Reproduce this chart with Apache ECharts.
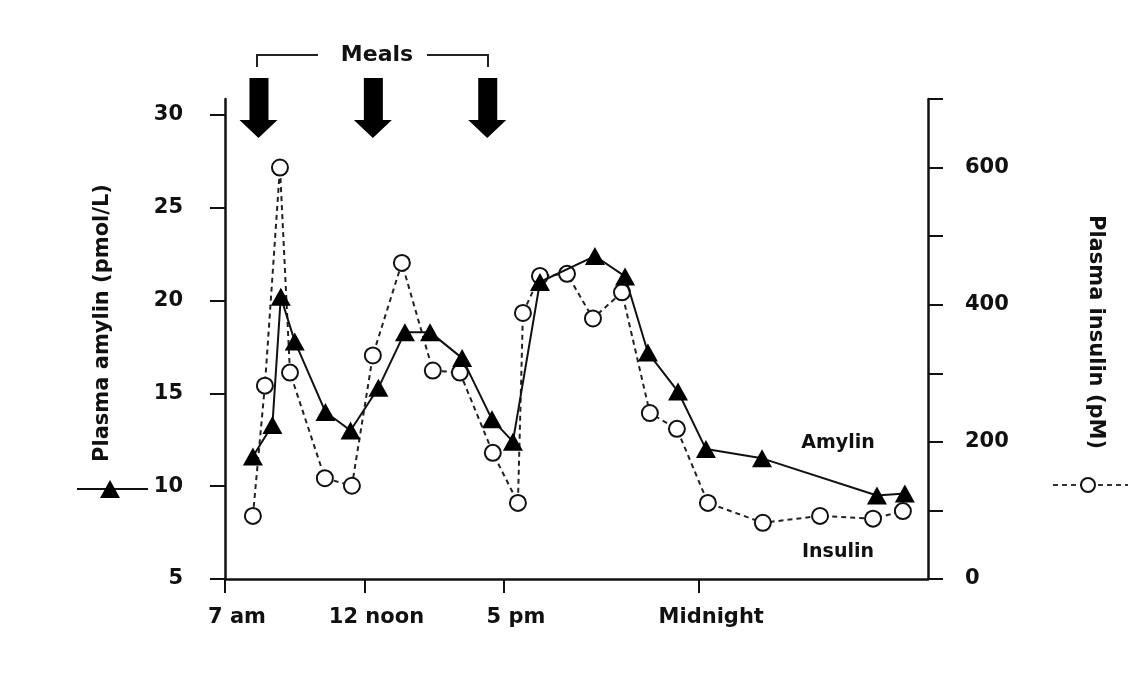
<!DOCTYPE html>
<html>
<head>
<meta charset="utf-8">
<script src="https://cdn.jsdelivr.net/npm/echarts@6/dist/echarts.min.js"></script>
<style>html,body{margin:0;padding:0;background:#fff;}#chart{width:1145px;height:687px;}</style>
</head>
<body>
<div id="chart"></div>
<script>
// Time of day in hours (7 = 7 am, 24 = midnight, >24 = next morning)
const amylinHours = [8.0, 8.7, 9.0, 9.5, 10.6, 11.5, 12.5, 13.45, 14.35, 15.5, 16.57, 17.32, 18.29, 20.26, 21.34, 22.16, 23.24, 24.24, 26.25, 30.37, 31.37];
const amylinValues = [11.6, 13.3, 20.2, 17.8, 14.0, 13.0, 15.3, 18.3, 18.3, 16.9, 13.6, 12.4, 21.0, 22.4, 21.3, 17.2, 15.1, 12.0, 11.5, 9.5, 9.6];
const insulinHours = [8.0, 8.43, 8.97, 9.33, 10.58, 11.55, 12.3, 13.34, 14.45, 15.42, 16.6, 17.5, 17.68, 18.29, 19.26, 20.19, 21.23, 22.23, 23.2, 24.31, 26.28, 28.33, 30.23, 31.3];
const insulinValues = [92, 282, 600, 301, 147, 136, 326, 461, 304, 301, 184, 111, 388, 442, 445, 380, 418, 242, 219, 111, 82, 92, 88, 99];
const mealHours = [8.2, 12.3, 16.4];
const mealLevel = 30.38;
const xTickValues = [7, 12, 17, 24];
const xTickLabels = {7: '7 am', 12: '12 noon', 17: '5 pm', 24: 'Midnight'};
const insulinLabelValues = [0, 200, 400, 600];

const FONT = '"DejaVu Sans", "Liberation Sans", sans-serif';
const chart = echarts.init(document.getElementById('chart'));
const pair = (xs, ys) => xs.map((x, i) => [x, ys[i]]);
const arrowPath = 'path://M10,0 L29,0 L29,42 L38,42 L19,60 L0,42 L10,42 Z';
const trianglePath = 'path://M10,0 L20,17 L0,17 Z';

chart.setOption({
  animation: false,
  backgroundColor: '#ffffff',
  grid: {left: 225, right: 217, top: 99, bottom: 108},
  xAxis: {
    type: 'value', min: 7, max: 32.2,
    splitLine: {show: false},
    axisLine: {lineStyle: {color: '#111', width: 2.5}},
    axisTick: {show: true, customValues: xTickValues, length: 14, lineStyle: {color: '#111', width: 2}},
    axisLabel: {customValues: xTickValues, formatter: v => xTickLabels[v] || '', color: '#111', fontFamily: FONT, fontWeight: 'bold', fontSize: 21, margin: 28, padding: [0, 0, 0, 24]}
  },
  yAxis: [
    {
      type: 'value', min: 5, max: 30.86, interval: 5, position: 'left',
      splitLine: {show: false},
      axisLine: {show: true, lineStyle: {color: '#111', width: 2.5}},
      axisTick: {show: true, length: 15, lineStyle: {color: '#111', width: 2}},
      axisLabel: {color: '#111', fontFamily: FONT, fontWeight: 'bold', fontSize: 21, margin: 42}
    },
    {
      type: 'value', min: 0, max: 700, interval: 100, position: 'right',
      splitLine: {show: false},
      axisLine: {show: true, lineStyle: {color: '#111', width: 2.5}},
      axisTick: {show: true, length: 15, lineStyle: {color: '#111', width: 2}},
      axisLabel: {color: '#111', fontFamily: FONT, fontWeight: 'bold', fontSize: 21, margin: 37,
        formatter: v => insulinLabelValues.indexOf(v) >= 0 ? String(v) : ''}
    }
  ],
  series: [
    {
      name: 'Insulin', type: 'line', yAxisIndex: 1,
      data: pair(insulinHours, insulinValues),
      symbol: 'circle', symbolSize: 16,
      lineStyle: {color: '#222', width: 2, type: [5, 4]},
      itemStyle: {color: '#fff', borderColor: '#111', borderWidth: 2},
      z: 3
    },
    {
      name: 'Amylin', type: 'line', yAxisIndex: 0,
      data: pair(amylinHours, amylinValues),
      symbol: trianglePath, symbolSize: [20, 18],
      lineStyle: {color: '#111', width: 2},
      itemStyle: {color: '#000'},
      z: 4
    },
    {
      name: 'Meals', type: 'scatter', yAxisIndex: 0, clip: false,
      data: mealHours.map(h => [h, mealLevel]),
      symbol: arrowPath, symbolSize: [38, 60],
      itemStyle: {color: '#000', opacity: 1},
      silent: true
    }
  ],
  graphic: [
    {type: 'polyline', shape: {points: [[257, 67], [257, 55], [318, 55]]}, style: {stroke: '#222', lineWidth: 2, fill: null}},
    {type: 'polyline', shape: {points: [[427, 55], [488, 55], [488, 67]]}, style: {stroke: '#222', lineWidth: 2, fill: null}},
    {type: 'text', x: 377, y: 55, style: {text: 'Meals', font: 'bold 22px ' + FONT, fill: '#111', align: 'center', verticalAlign: 'middle'}},
    {type: 'text', x: 103, y: 323, rotation: Math.PI / 2, style: {text: 'Plasma amylin (pmol/L)', font: 'bold 21px ' + FONT, fill: '#111', align: 'center', verticalAlign: 'middle'}},
    {type: 'line', shape: {x1: 77, y1: 489, x2: 148, y2: 489}, style: {stroke: '#111', lineWidth: 2}},
    {type: 'polygon', shape: {points: [[100, 498], [110, 480], [120, 498]]}, style: {fill: '#000'}},
    {type: 'text', x: 1095, y: 332, rotation: -Math.PI / 2, style: {text: 'Plasma insulin (pM)', font: 'bold 21px ' + FONT, fill: '#111', align: 'center', verticalAlign: 'middle'}},
    {type: 'line', shape: {x1: 1053, y1: 485, x2: 1128, y2: 485}, style: {stroke: '#333', lineWidth: 2, lineDash: [5, 4]}},
    {type: 'circle', shape: {cx: 1088, cy: 485, r: 7}, style: {fill: '#fff', stroke: '#111', lineWidth: 2}},
    {type: 'text', x: 838, y: 443, style: {text: 'Amylin', font: 'bold 19px ' + FONT, fill: '#111', align: 'center', verticalAlign: 'middle'}},
    {type: 'text', x: 838, y: 552, style: {text: 'Insulin', font: 'bold 19px ' + FONT, fill: '#111', align: 'center', verticalAlign: 'middle'}}
  ]
});
</script>
</body>
</html>
